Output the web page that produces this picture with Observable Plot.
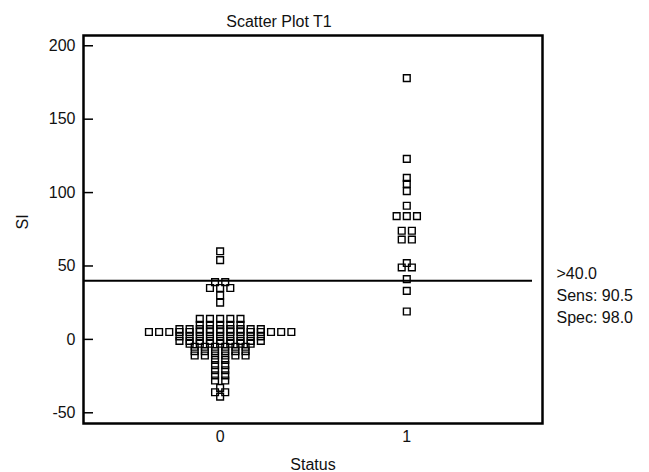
<!DOCTYPE html>
<html><head><meta charset="utf-8">
<script src="https://cdn.jsdelivr.net/npm/d3@7"></script>
<script src="https://cdn.jsdelivr.net/npm/@observablehq/plot@0.6"></script>
<style>
html,body{margin:0;padding:0;background:#fff;}
#chart{width:649px;height:472px;}
</style></head><body><div id="chart"></div>
<script>
const title = "Scatter Plot T1";
const xLabel = "Status";
const yLabel = "SI";
const categories = [0, 1];
const yTicks = [-50, 0, 50, 100, 150, 200];
const cutoff = 40;
const annotation = [">40.0", "Sens: 90.5", "Spec: 98.0"];

// SI values, Status 0 (equal values share a row)
const group0 = [
  60, 54, 39, 39, 35, 35, 35, 30, 25,
  14, 14, 14, 14, 14,
  10, 10, 10, 10, 10,
  7, 7, 7, 7, 7, 7, 7, 7, 7,
  5, 5, 5, 5, 5, 5, 5, 5, 5, 5, 5, 5, 5, 5, 5,
  2, 2, 2, 2, 2, 2, 2, 2, 2,
  -1, -1, -1, -1, -1, -1, -1, -1, -1,
  -3, -3, -3, -3, -3, -3, -3,
  -5, -5, -5, -5, -5, -5,
  -8, -8, -8, -8, -8, -8,
  -11, -11, -11, -11, -11, -11,
  -14, -14, -17.5, -17.5, -21, -21, -24.5, -24.5, -28, -28,
  -33, -36, -36, -39
];
// SI values, Status 1
const group1 = [178, 123, 110, 106, 101, 91, 84, 84, 84, 74, 74, 68, 68, 52, 49, 49, 41, 33, 19];

// dot-diagram layout: equal values are spread side by side around the category
const step = 0.0545;
function spread(values, status) {
  const counts = d3.rollup(values, v => v.length, d => d);
  const seen = new Map();
  return values.map(v => {
    const n = counts.get(v), i = seen.get(v) || 0;
    seen.set(v, i + 1);
    return {status, si: v, xpos: status + (i - (n - 1) / 2) * step};
  });
}
const points = [...spread(group0, 0), ...spread(group1, 1)];

const plot = Plot.plot({
  width: 649, height: 472,
  marginTop: 35, marginLeft: 83, marginRight: 107, marginBottom: 49,
  style: {fontFamily: "'Liberation Sans', Arial, sans-serif", fontSize: "16px", color: "#000", background: "#fff"},
  x: {domain: [-0.732, 1.727]},
  y: {domain: [-57.3, 207]},
  marks: [
    Plot.axisX({ticks: categories, tickSize: 0, tickPadding: 7, tickFormat: d => String(d), label: null, fill: "#111"}),
    Plot.axisY({ticks: yTicks, tickSize: -10, tickPadding: 18, strokeWidth: 1.5, tickFormat: d => String(d), label: null, fill: "#111"}),
    Plot.ruleY([cutoff], {stroke: "#000", strokeWidth: 2, insetRight: 10}),
    Plot.dot(points, {x: "xpos", y: "si", symbol: "square", r: 3.8, stroke: "#000", strokeWidth: 1.4, fill: "none"}),
    Plot.frame({stroke: "#000", strokeWidth: 2.5}),
    Plot.text([title], {text: d => d, frameAnchor: "top", lineAnchor: "middle", dx: -34, dy: -14, fill: "#111"}),
    Plot.text([xLabel], {text: d => d, frameAnchor: "bottom", lineAnchor: "middle", dy: 41, fill: "#111"}),
    Plot.text([yLabel], {text: d => d, frameAnchor: "left", rotate: -90, dx: -61, fill: "#111"}),
    Plot.text([annotation.join("\n")], {text: d => d, y: () => cutoff, frameAnchor: "right", textAnchor: "start", lineAnchor: "top", dx: 14, dy: -17.4, lineHeight: 1.375, fill: "#111"})
  ]
});
document.getElementById("chart").appendChild(plot);
</script>
</body></html>
